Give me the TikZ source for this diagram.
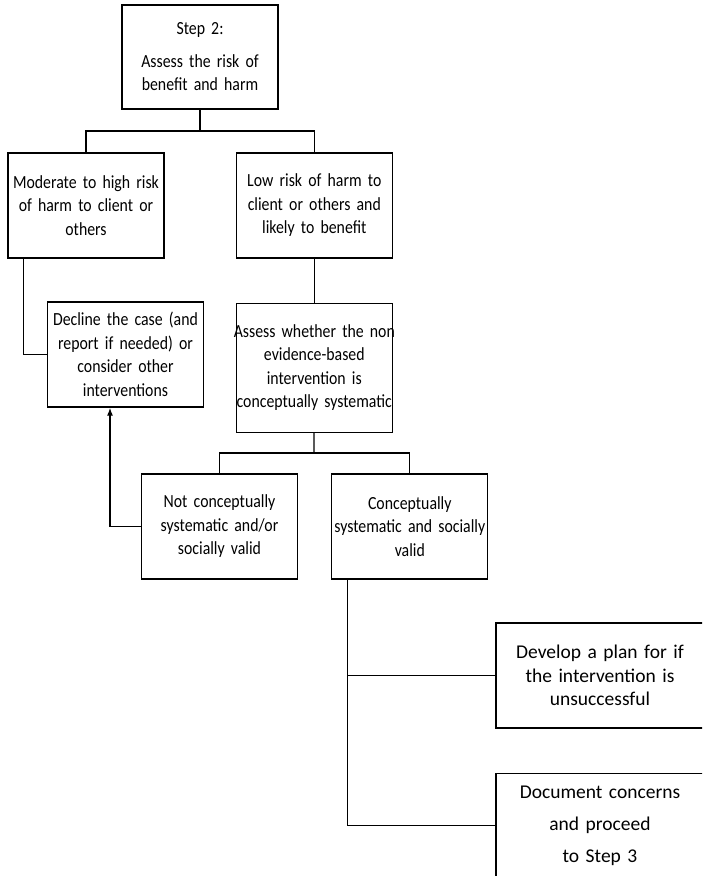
\documentclass[tikz,border=0pt]{standalone}
\usepackage{fontspec}
\setmainfont[FakeStretch=0.855]{Carlito}
\newfontfamily\widefont{Carlito}
\usetikzlibrary{positioning, arrows.meta}

\begin{document}
\begin{tikzpicture}[x=1pt, y=-1pt, node distance=44pt,
    box/.style={draw, rectangle, line width=1.3pt, inner sep=2pt, align=center, text width=152pt, minimum height=105pt, font=\fontsize{18.5}{23.5}\selectfont},
    wide/.style={box, text width=204pt, font=\widefont\fontsize{19.5}{23.5}\selectfont}]
        \useasboundingbox (0,0) rectangle (702,876);
        \clip (0,0) rectangle (702,876);

        \node[box, minimum height=104pt] (step2) at (200,57) {Step 2:\\[9pt] Assess the risk of\\ benefit and harm}; % Top question
        \node[box] (mod) at (86,205.5) {Moderate to high risk\\ of harm to client or\\ others}; % Left branch
        \node[box, right=71pt of mod] (low) {Low risk of harm to\\ client or others and\\ likely to benefit}; % Right branch
        \node[box, minimum height=129pt, text width=162pt, inner xsep=-3pt, below=of low] (assess) {Assess whether the non\\ evidence-based\\ intervention is\\ conceptually systematic};
        \node[box] (decline) at (125.5,354.5) {Decline the case (and\\ report if needed) or\\ consider other\\ interventions};
        \node[box] (notcs) at (219.5,526.5) {Not conceptually\\ systematic and/or\\ socially valid};
        \node[box, right=33pt of notcs] (cs) {Conceptually\\ systematic and socially\\ valid};
        \node[wide] (develop) at (600,675.5) {Develop a plan for if\\ the intervention is\\ unsuccessful};
        \node[wide, below=of develop, font=\widefont\fontsize{19.5}{32}\selectfont] (document) {Document concerns\\ and proceed\\ to Step 3};

        % Split points
        \coordinate (split1) at (200,131);
        \coordinate (split2) at (314,453);

        \begin{scope}[line width=1.3pt]
        \draw (step2) -- (split1);
        \draw (mod.north) |- (split1) -| (low.north);
        \draw ([xshift=16pt]mod.south west) |- (decline.west);
        \draw (low) -- (assess);
        \draw (assess) -- (split2);
        \draw (notcs.north) |- (split2) -| (cs.north);
        \draw[-{Latex[length=8pt, width=6pt]}] (notcs.west) -| ([xshift=-15.5pt]decline.south);
        \draw ([xshift=16pt]cs.south west) |- (develop.west);
        \draw ([xshift=16pt]cs.south west) |- (document.west);
        \end{scope}
\end{tikzpicture}
\end{document}
